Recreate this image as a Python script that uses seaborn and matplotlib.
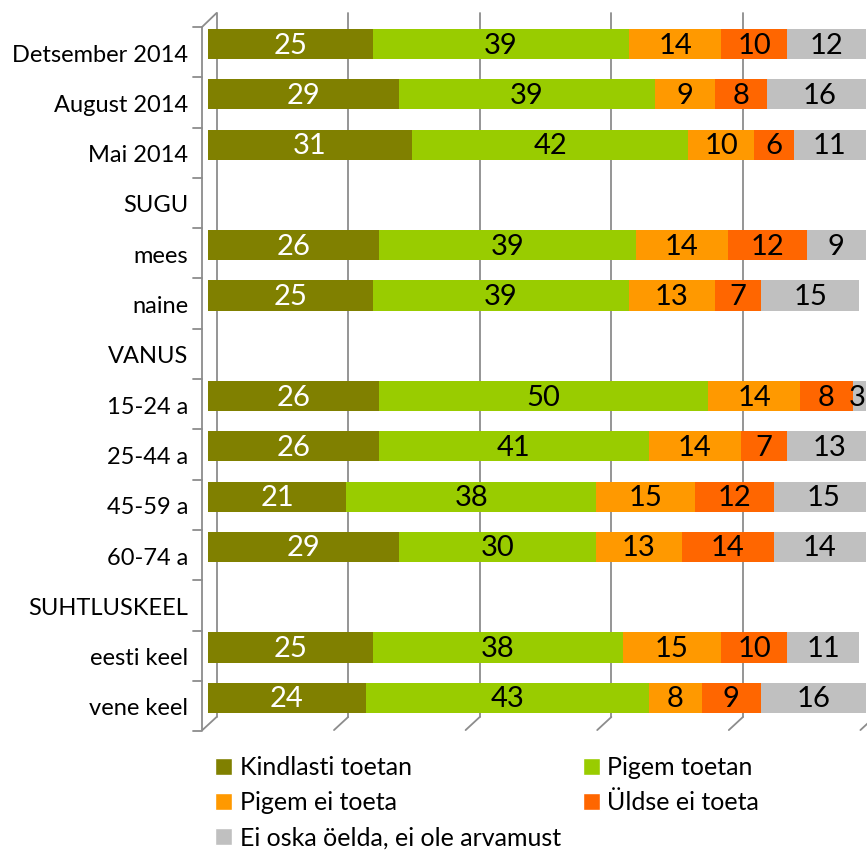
import numpy as np
import pandas as pd
import matplotlib.pyplot as plt
from matplotlib.patches import Patch
import seaborn as sns

# Andmed (protsendid)
rows = ["Detsember 2014", "August 2014", "Mai 2014", "SUGU", "mees", "naine",
        "VANUS", "15-24 a", "25-44 a", "45-59 a", "60-74 a", "SUHTLUSKEEL",
        "eesti keel", "vene keel"]
kindlasti = [25, 29, 31, np.nan, 26, 25, np.nan, 26, 26, 21, 29, np.nan, 25, 24]
pigem = [39, 39, 42, np.nan, 39, 39, np.nan, 50, 41, 38, 30, np.nan, 38, 43]
pigem_ei = [14, 9, 10, np.nan, 14, 13, np.nan, 14, 14, 15, 13, np.nan, 15, 8]
uldse_ei = [10, 8, 6, np.nan, 12, 7, np.nan, 8, 7, 12, 14, np.nan, 10, 9]
ei_oska = [12, 16, 11, np.nan, 9, 15, np.nan, 3, 13, 15, 14, np.nan, 11, 16]

series_names = ["Kindlasti toetan", "Pigem toetan", "Pigem ei toeta",
                "Üldse ei toeta", "Ei oska öelda, ei ole arvamust"]
colors = ["#808000", "#99CC00", "#FF9900", "#FF6600", "#C0C0C0"]

df = pd.DataFrame(dict(zip(series_names,
                           [kindlasti, pigem, pigem_ei, uldse_ei, ei_oska])),
                  index=rows)
cum = df.cumsum(axis=1)

sns.set_theme(style="white")
plt.rcParams['font.family'] = ['Lato', 'DejaVu Sans']

fig = plt.figure(figsize=(8.67, 8.55), dpi=100)
ax = fig.add_axes([208 / 867, 1 - 735 / 855, 658 / 867, 725 / 855])

# virnastatud tulbad: laiemad enne
for name, col in reversed(list(zip(series_names, colors))):
    sns.barplot(x=cum[name].values, y=rows, order=rows, orient="h", color=col,
                saturation=1, width=0.6, errorbar=None, ax=ax, zorder=2,
                linewidth=0)

# väärtused tulpadel
for i, r in enumerate(rows):
    left = 0
    for j, name in enumerate(series_names):
        v = df.loc[r, name]
        if np.isnan(v):
            continue
        xc = min(left + v / 2, 98.6)  # paremas servas hoia tekst nähtav
        ax.text(xc, i + 0.03, f"{int(v)}", ha="center", va="center",
                fontsize=21, color="white" if j == 0 else "black", zorder=4)
        left += v

# 3D-laadne taust: ruudujooned, vasak sein, põranda kaldjooned
grid_c = "#8c8c8c"
for v in range(0, 101, 20):
    ax.plot([v + 1.3, v + 1.3], [-0.616, 13.38], color=grid_c, lw=1.3,
            zorder=1, clip_on=False)
    ax.plot([v - 0.85, v + 1.3], [13.64, 13.38], color=grid_c, lw=1.3,
            zorder=1, clip_on=False)
ax.plot([-0.91, -0.91], [-0.338, 13.64], color=grid_c, lw=1.3, clip_on=False)
ax.plot([-0.91, 1.3], [-0.338, -0.616], color=grid_c, lw=1.3, clip_on=False)
for k in range(15):
    ax.plot([-2.28, -0.91], [-0.338 + k, -0.338 + k], color=grid_c, lw=1.3,
            clip_on=False)

ax.set_xlim(0, 100)
ax.set_ylim(13.738, -0.676)
ax.set_xticks([])
ax.set_yticks(np.arange(len(rows)) + 0.18)
ax.set_yticklabels(rows, fontsize=17, color="black")
ax.tick_params(axis="y", length=0, pad=14.4)
ax.set_xlabel("")
ax.set_ylabel("")
for s in ax.spines.values():
    s.set_visible(False)

order = [0, 2, 4, 1, 3]
handles = [Patch(facecolor=colors[k]) for k in order]
labels = [series_names[k] for k in order]
fig.legend(handles, labels, ncol=2, loc="upper left",
           bbox_to_anchor=(215 / 867, 1 - 756 / 855), frameon=False,
           fontsize=18, handlelength=0.68, handleheight=0.68, handletextpad=0.3,
           columnspacing=0.88, labelspacing=0.49, borderaxespad=0, borderpad=0,
           labelcolor="black")

fig.savefig("out.png", dpi=100)
